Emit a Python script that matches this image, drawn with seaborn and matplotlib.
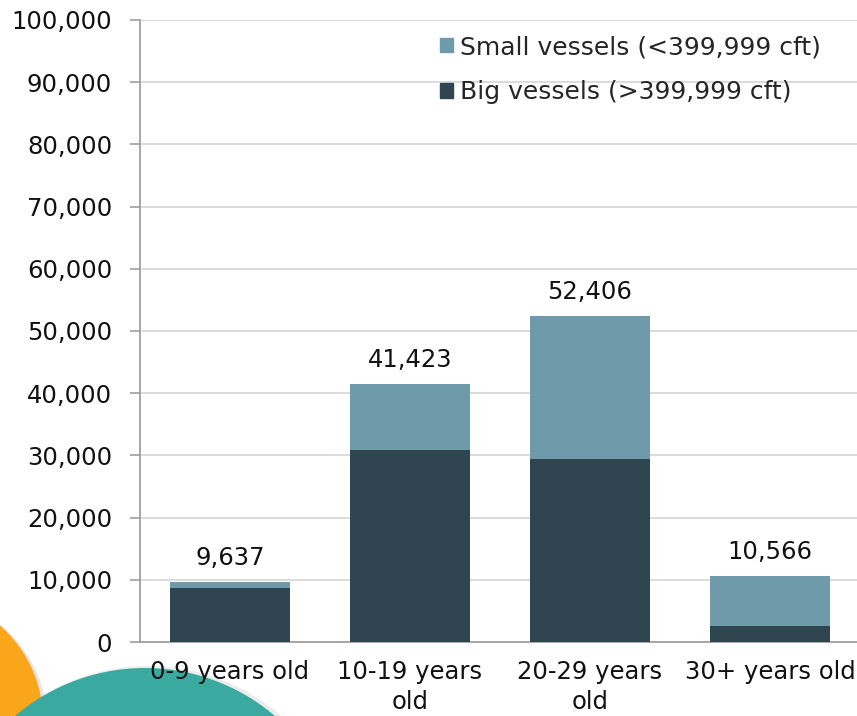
import numpy as np
import pandas as pd
import matplotlib
matplotlib.use("Agg")
import matplotlib.pyplot as plt
import seaborn as sns
from matplotlib.patches import Circle, Patch
from matplotlib.ticker import FuncFormatter

# Chart data
age_groups = ['0-9 years old', '10-19 years\nold', '20-29 years\nold', '30+ years old']
totals = [9637, 41423, 52406, 10566]
big_vessels = [8700, 30800, 29500, 2600]
small_label = 'Small vessels (<399,999 cft)'
big_label = 'Big vessels (>399,999 cft)'

dark = '#2F4550'
light = '#6E9AAA'

df = pd.DataFrame({'Age': age_groups, 'Total': totals, 'Big': big_vessels})

sns.set_style("white")
plt.rcParams['font.family'] = ['DejaVu Sans']

fig = plt.figure(figsize=(8.57, 7.16), dpi=100)

# decorative circles in the bottom-left corner
bg = fig.add_axes([0, 0, 1, 1], zorder=0)
bg.set_xlim(0, 857)
bg.set_ylim(716, 0)
bg.axis('off')
bg.add_patch(Circle((-78, 722), 125, color='#7F7F7F', alpha=0.2, lw=0))
bg.add_patch(Circle((-82, 720), 125, color='#F9A61A', lw=0))
bg.add_patch(Circle((148, 869), 203, color='#999999', alpha=0.18, lw=0))
bg.add_patch(Circle((145, 868), 200, color='#3AA99F', lw=0))

ax = fig.add_axes([140 / 857, 74 / 716, 720 / 857, 622 / 716], zorder=1)
ax.patch.set_alpha(0)

# totals drawn first (light), then big vessels on top (dark) -> stacked look
sns.barplot(data=df, x='Age', y='Total', color=light, width=0.667,
            saturation=1, linewidth=0, ax=ax, zorder=2)
sns.barplot(data=df, x='Age', y='Big', color=dark, width=0.667,
            saturation=1, linewidth=0, ax=ax, zorder=3)

ax.bar_label(ax.containers[0], labels=[f'{v:,}' for v in totals],
             padding=9, fontsize=17.5, color='#111111')

ax.set_ylim(0, 100000)
ax.set_xlim(-0.5, 3.5)
ax.set_yticks(np.arange(0, 100001, 10000))
ax.yaxis.set_major_formatter(FuncFormatter(lambda v, p: f'{int(v):,}'))
ax.grid(axis='y', color='#D9D9D9', lw=1.3, zorder=0)
ax.set_axisbelow(True)
ax.set_xlabel('')
ax.set_ylabel('')

for s in ['top', 'right']:
    ax.spines[s].set_visible(False)
ax.spines['left'].set_color('#A0A0A0')
ax.spines['bottom'].set_color('#A0A0A0')
ax.spines['left'].set_linewidth(1.3)
ax.spines['bottom'].set_linewidth(1.3)

ax.tick_params(axis='y', which='major', direction='out', length=7, width=1.2,
               color='#A0A0A0', labelsize=17.5, labelcolor='#111111', pad=13, left=True)
ax.tick_params(axis='x', length=0, labelsize=17.5, labelcolor='#111111', pad=13)
for lbl in ax.get_xticklabels():
    lbl.set_linespacing(1.3)

handles = [Patch(color=light, label=small_label), Patch(color=dark, label=big_label)]
ax.legend(handles=handles, loc='upper left', bbox_to_anchor=(440 / 857, 1 - 35 / 716),
          bbox_transform=fig.transFigure, frameon=False, fontsize=18,
          handlelength=0.5, handleheight=0.5, handletextpad=0.32,
          labelspacing=0.85, borderpad=0, borderaxespad=0)

fig.savefig('out.png', dpi=100)
